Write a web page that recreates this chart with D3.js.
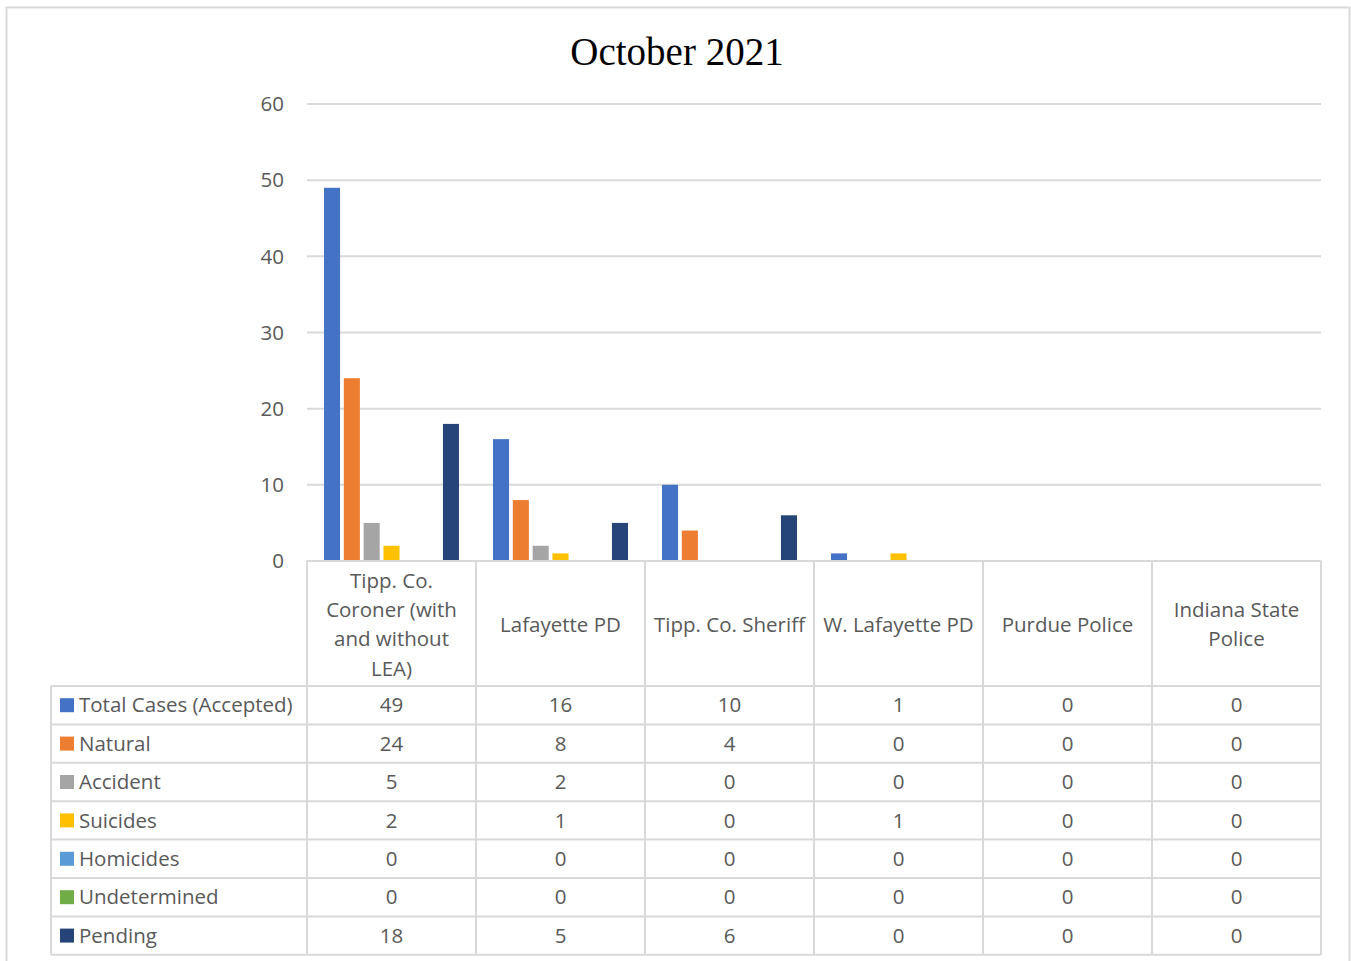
<!DOCTYPE html>
<html>
<head>
<meta charset="utf-8">
<script src="https://cdn.jsdelivr.net/npm/d3@7"></script>
<style>
  body { margin: 0; background: #fff; }
  svg { display: block; }
</style>
</head>
<body>
<svg id="chart" width="1351" height="961"></svg>
<script>
const svg = d3.select("#chart");

const categories = [
  ["Tipp. Co.", "Coroner (with", "and without", "LEA)"],
  ["Lafayette PD"],
  ["Tipp. Co. Sheriff"],
  ["W. Lafayette PD"],
  ["Purdue Police"],
  ["Indiana State", "Police"]
];
const seriesNames = ["Total Cases (Accepted)", "Natural", "Accident", "Suicides", "Homicides", "Undetermined", "Pending"];
const seriesColors = ["#4472C4", "#ED7D31", "#A5A5A5", "#FFC000", "#5B9BD5", "#70AD47", "#264478"];
const totalCases = [49, 16, 10, 1, 0, 0];
const natural = [24, 8, 4, 0, 0, 0];
const accident = [5, 2, 0, 0, 0, 0];
const suicides = [2, 1, 0, 1, 0, 0];
const homicides = [0, 0, 0, 0, 0, 0];
const undetermined = [0, 0, 0, 0, 0, 0];
const pending = [18, 5, 6, 0, 0, 0];
const yTicks = [0, 10, 20, 30, 40, 50, 60];

const series = [totalCases, natural, accident, suicides, homicides, undetermined, pending];

const textColor = "#595959";
const lineColor = "#d9d9d9";
const sans = "'Open Sans', sans-serif";
const fs = "20.5px";

const plot = { left: 307, right: 1321, top: 104, bottom: 561 };
const tableLeft = 51;
const headerBottom = 686;
const rowH = 38.4;

// outer frame
svg.append("rect")
  .attr("x", 6.5).attr("y", 7.5)
  .attr("width", 1343).attr("height", 970)
  .attr("fill", "none").attr("stroke", lineColor).attr("stroke-width", 2);

svg.append("text")
  .attr("x", 677).attr("y", 65)
  .attr("text-anchor", "middle")
  .style("font-family", "'Liberation Serif', serif")
  .style("font-size", "39px")
  .attr("fill", "#000")
  .text("October 2021");

const x0 = d3.scaleBand()
  .domain(d3.range(categories.length))
  .range([plot.left, plot.right]);

const x1 = d3.scaleBand()
  .domain(d3.range(series.length))
  .range([17, x0.bandwidth() - 17])
  .paddingInner(0.19);

const y = d3.scaleLinear().domain([0, 60]).range([plot.bottom, plot.top]);

// gridlines
svg.append("g")
  .selectAll("line")
  .data(yTicks.filter(d => d > 0))
  .join("line")
  .attr("x1", plot.left).attr("x2", plot.right)
  .attr("y1", d => y(d)).attr("y2", d => y(d))
  .attr("stroke", lineColor).attr("stroke-width", 2);

// y labels
svg.append("g")
  .selectAll("text")
  .data(yTicks)
  .join("text")
  .attr("x", 284)
  .attr("y", d => y(d))
  .attr("dy", "0.35em")
  .attr("text-anchor", "end")
  .style("font-family", sans)
  .style("font-size", fs)
  .attr("fill", textColor)
  .text(d => d);

// bars
const groups = svg.append("g")
  .selectAll("g")
  .data(categories.map((c, i) => i))
  .join("g")
  .attr("transform", i => `translate(${x0(i)},0)`);

groups.selectAll("rect")
  .data(i => series.map((s, k) => ({ k, v: s[i] })))
  .join("rect")
  .attr("x", d => x1(d.k))
  .attr("width", x1.bandwidth())
  .attr("y", d => y(d.v))
  .attr("height", d => y(0) - y(d.v))
  .attr("fill", d => seriesColors[d.k]);

// data table
const table = svg.append("g");
const tableBottom = headerBottom + rowH * seriesNames.length;
const border = sel => sel.attr("stroke", lineColor).attr("stroke-width", 2);

// horizontal lines
table.append("line").attr("x1", plot.left).attr("x2", plot.right)
  .attr("y1", plot.bottom).attr("y2", plot.bottom).call(border);
d3.range(seriesNames.length + 1).forEach(r => {
  table.append("line").attr("x1", tableLeft).attr("x2", plot.right)
    .attr("y1", headerBottom + r * rowH).attr("y2", headerBottom + r * rowH).call(border);
});
// vertical lines
table.append("line").attr("x1", tableLeft).attr("x2", tableLeft)
  .attr("y1", headerBottom).attr("y2", tableBottom).call(border);
d3.range(categories.length + 1).forEach(c => {
  const xx = plot.left + c * x0.bandwidth();
  table.append("line").attr("x1", xx).attr("x2", xx)
    .attr("y1", plot.bottom).attr("y2", tableBottom).call(border);
});

// header labels
const headerMid = (plot.bottom + headerBottom) / 2 + 1;
const lineH = 29.3;
categories.forEach((lines, i) => {
  const t = table.append("text")
    .attr("text-anchor", "middle")
    .style("font-family", sans)
    .style("font-size", fs)
    .attr("fill", textColor);
  lines.forEach((ln, j) => {
    t.append("tspan")
      .attr("x", x0(i) + x0.bandwidth() / 2)
      .attr("y", headerMid + (j - (lines.length - 1) / 2) * lineH)
      .attr("dy", "0.35em")
      .text(ln);
  });
});

// rows
seriesNames.forEach((name, r) => {
  const cy = headerBottom + r * rowH + rowH / 2;
  table.append("rect")
    .attr("x", 60).attr("y", cy - 7)
    .attr("width", 14).attr("height", 14)
    .attr("fill", seriesColors[r]);
  table.append("text")
    .attr("x", 79).attr("y", cy).attr("dy", "0.35em")
    .style("font-family", sans).style("font-size", fs)
    .attr("fill", textColor)
    .text(name);
  series[r].forEach((v, i) => {
    table.append("text")
      .attr("x", x0(i) + x0.bandwidth() / 2).attr("y", cy).attr("dy", "0.35em")
      .attr("text-anchor", "middle")
      .style("font-family", sans).style("font-size", fs)
      .attr("fill", textColor)
      .text(v);
  });
});
</script>
</body>
</html>
